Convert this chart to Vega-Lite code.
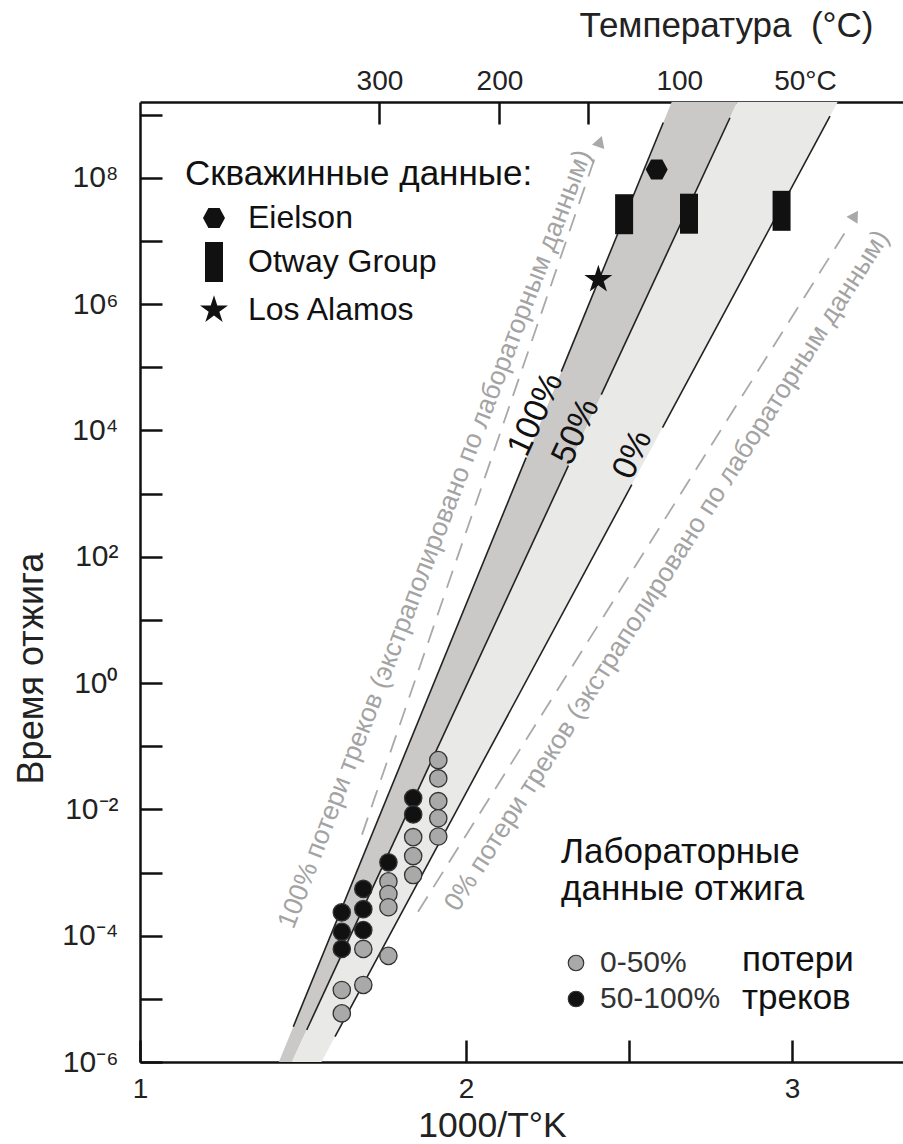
{
  "$schema": "https://vega.github.io/schema/vega-lite/v6.json",
  "width": 763,
  "height": 960,
  "autosize": {"type": "none"},
  "padding": {"left": 140, "top": 102, "right": 0, "bottom": 82},
  "background": "#ffffff",
  "config": {
    "font": "Liberation Sans",
    "view": {"stroke": null},
    "axis": {"grid": false}
  },
  "resolve": {"axis": {"x": "independent"}},
  "datasets": {
    "bandDark": [
      {"t": 1e-6, "x": 1.4259, "x2": 1.4658},
      {"t": 1584893192, "x": 2.6309, "x2": 2.8322}
    ],
    "bandLight": [
      {"t": 1e-6, "x": 1.4658, "x2": 1.5564},
      {"t": 1584893192, "x": 2.8322, "x2": 3.1399}
    ],
    "lines": [
      {"seg": "100a", "x": 1.4702, "t": 3.622e-6}, {"seg": "100a", "x": 2.1844, "t": 3707},
      {"seg": "100b", "x": 2.2923, "t": 85310}, {"seg": "100b", "x": 2.6052, "t": 751600000},
      {"seg": "50a", "x": 1.5113, "t": 3.214e-6}, {"seg": "50a", "x": 2.3141, "t": 2767},
      {"seg": "50b", "x": 2.415, "t": 36900}, {"seg": "50b", "x": 2.8098, "t": 893000000},
      {"seg": "0a", "x": 1.5982, "t": 2.518e-6}, {"seg": "0a", "x": 2.5086, "t": 1384},
      {"seg": "0b", "x": 2.6028, "t": 11070}, {"seg": "0b", "x": 3.1166, "t": 946000000}
    ],
    "dashed": [
      {"id": "L", "x": 1.681, "t": 0.00398}, {"id": "L", "x": 2.4018, "t": 261000000},
      {"id": "R", "x": 1.8528, "t": 0.00024}, {"id": "R", "x": 3.178, "t": 18200000}
    ],
    "arrows": [
      {"id": "L", "x": 2.411, "t": 376000000},
      {"id": "R", "x": 3.1933, "t": 25300000}
    ],
    "notes": [
      {"id": "L", "txt": "100% потери треков (экстраполировано по лабораторным данным)", "x": 1.905, "t": 190},
      {"id": "R", "txt": "0% потери треков (экстраполировано по лабораторным данным)", "x": 2.6166, "t": 60.1}
    ],
    "pct": [
      {"label": "100%", "x": 2.214, "t": 17783},
      {"label": "50%", "x": 2.338, "t": 9572},
      {"label": "0%", "x": 2.512, "t": 4130}
    ],
    "lab": [
      {"x": 1.915, "t": 0.0603, "loss": "0-50%"},
      {"x": 1.915, "t": 0.0309, "loss": "0-50%"},
      {"x": 1.915, "t": 0.0135, "loss": "0-50%"},
      {"x": 1.915, "t": 0.00724, "loss": "0-50%"},
      {"x": 1.915, "t": 0.00372, "loss": "0-50%"},
      {"x": 1.838, "t": 0.0151, "loss": "50-100%"},
      {"x": 1.838, "t": 0.00832, "loss": "50-100%"},
      {"x": 1.838, "t": 0.00363, "loss": "0-50%"},
      {"x": 1.838, "t": 0.00182, "loss": "0-50%"},
      {"x": 1.838, "t": 0.000912, "loss": "0-50%"},
      {"x": 1.762, "t": 0.00145, "loss": "50-100%"},
      {"x": 1.762, "t": 0.000724, "loss": "0-50%"},
      {"x": 1.762, "t": 0.000457, "loss": "0-50%"},
      {"x": 1.762, "t": 0.000282, "loss": "0-50%"},
      {"x": 1.762, "t": 0.0000479, "loss": "0-50%"},
      {"x": 1.685, "t": 0.00055, "loss": "50-100%"},
      {"x": 1.685, "t": 0.000263, "loss": "50-100%"},
      {"x": 1.685, "t": 0.000123, "loss": "50-100%"},
      {"x": 1.685, "t": 0.0000617, "loss": "0-50%"},
      {"x": 1.685, "t": 0.0000166, "loss": "0-50%"},
      {"x": 1.619, "t": 0.000234, "loss": "50-100%"},
      {"x": 1.619, "t": 0.000115, "loss": "50-100%"},
      {"x": 1.619, "t": 0.0000617, "loss": "50-100%"},
      {"x": 1.619, "t": 0.0000138, "loss": "0-50%"},
      {"x": 1.619, "t": 0.00000589, "loss": "0-50%"}
    ],
    "bore": [
      {"site": "Eielson", "x": 2.585, "t": 135000000},
      {"site": "Otway Group", "x": 2.485, "t": 26500000},
      {"site": "Otway Group", "x": 2.684, "t": 27000000},
      {"site": "Otway Group", "x": 2.968, "t": 30000000},
      {"site": "Los Alamos", "x": 2.406, "t": 2450000}
    ],
    "words": [
      {"w": "потери", "x": 2.8466, "t": 0.0000413},
      {"w": "треков", "x": 2.8466, "t": 0.0000103}
    ]
  },
  "layer": [
    {
      "data": {"name": "bandDark"},
      "mark": {"type": "area", "orient": "horizontal", "color": "#cbc9c7", "clip": true},
      "encoding": {
        "y": {
          "field": "t", "type": "quantitative",
          "scale": {"type": "log", "domain": [1e-6, 1584893192], "nice": false},
          "axis": {
            "orient": "left",
            "values": [1e-6, 1e-5, 1e-4, 1e-3, 0.01, 0.1, 1, 10, 100, 1000, 10000, 100000, 1000000, 10000000, 100000000, 1000000000],
            "labelExpr": "round(log(datum.value)/LN10) == 8 ? '10⁸' : round(log(datum.value)/LN10) == 6 ? '10⁶' : round(log(datum.value)/LN10) == 4 ? '10⁴' : round(log(datum.value)/LN10) == 2 ? '10²' : round(log(datum.value)/LN10) == 0 ? '10⁰' : round(log(datum.value)/LN10) == -2 ? '10⁻²' : round(log(datum.value)/LN10) == -4 ? '10⁻⁴' : round(log(datum.value)/LN10) == -6 ? '10⁻⁶' : ''",
            "labelOverlap": false,
            "labelFontSize": 30,
            "labelColor": "#222",
            "labelPadding": 44,
            "tickSize": -22,
            "tickWidth": 2.5,
            "tickColor": "#111",
            "domainColor": "#111",
            "domainWidth": 2.5,
            "title": "Время отжига",
            "titleFontSize": 36,
            "titleFontWeight": "normal",
            "titleColor": "#222",
            "titleAngle": -90,
            "titleAlign": "center",
            "titleBaseline": "alphabetic",
            "titleX": -98,
            "titleY": 566
          }
        },
        "x": {
          "field": "x", "type": "quantitative",
          "scale": {"domain": [1, 3.3405], "zero": false, "nice": false},
          "axis": {
            "orient": "bottom",
            "values": [1, 1.5, 2, 2.5, 3],
            "labelExpr": "datum.value == 1 ? '1' : datum.value == 2 ? '2' : datum.value == 3 ? '3' : ''",
            "labelFlush": false,
            "labelOverlap": false,
            "labelFontSize": 28,
            "labelColor": "#222",
            "labelPadding": 35,
            "tickSize": -22,
            "tickWidth": 2.5,
            "tickColor": "#111",
            "domainColor": "#111",
            "domainWidth": 2.5,
            "title": "1000/T°K",
            "titleFontSize": 35.5,
            "titleFontWeight": "normal",
            "titleColor": "#222",
            "titleAlign": "center",
            "titleBaseline": "alphabetic",
            "titleX": 352,
            "titleY": 74
          }
        },
        "x2": {"field": "x2"}
      }
    },
    {
      "data": {"name": "bandLight"},
      "mark": {"type": "area", "orient": "horizontal", "color": "#e9e9e8", "clip": true},
      "encoding": {
        "y": {"field": "t", "type": "quantitative"},
        "x": {
          "field": "x", "type": "quantitative",
          "axis": {
            "orient": "top",
            "values": [1.7344, 2.1025, 2.3748, 2.6543, 3.0399],
            "labelExpr": "datum.value < 1.9 ? '300' : datum.value < 2.2 ? '200' : datum.value < 2.5 ? '' : datum.value < 2.8 ? '100' : '50°C'",
            "labelFlush": false,
            "labelOverlap": false,
            "labelFontSize": 28,
            "labelColor": "#222",
            "labelPadding": 29,
            "tickSize": -22,
            "tickWidth": 2.5,
            "tickColor": "#111",
            "domainColor": "#111",
            "domainWidth": 2.5,
            "title": "Температура\u00a0\u00a0(°C)",
            "titleFontSize": 35,
            "titleFontWeight": "normal",
            "titleColor": "#222",
            "titleAlign": "right",
            "titleBaseline": "alphabetic",
            "titleX": 733,
            "titleY": -66
          }
        },
        "x2": {"field": "x2"}
      }
    },
    {
      "data": {"name": "lines"},
      "mark": {"type": "line", "color": "#222", "strokeWidth": 1.6},
      "encoding": {
        "x": {"field": "x", "type": "quantitative", "axis": null},
        "y": {"field": "t", "type": "quantitative"},
        "detail": {"field": "seg", "type": "nominal"}
      }
    },
    {
      "data": {"name": "dashed"},
      "mark": {"type": "line", "color": "#a9a9a9", "strokeWidth": 1.8, "strokeDash": [18, 11]},
      "encoding": {
        "x": {"field": "x", "type": "quantitative", "axis": null},
        "y": {"field": "t", "type": "quantitative"},
        "detail": {"field": "id", "type": "nominal"}
      }
    },
    {
      "data": {"name": "arrows"},
      "transform": [{"filter": "datum.id == 'L'"}],
      "mark": {"type": "point", "shape": "triangle-up", "filled": true, "color": "#a9a9a9", "opacity": 1, "size": 170, "angle": 19},
      "encoding": {
        "x": {"field": "x", "type": "quantitative", "axis": null},
        "y": {"field": "t", "type": "quantitative"}
      }
    },
    {
      "data": {"name": "arrows"},
      "transform": [{"filter": "datum.id == 'R'"}],
      "mark": {"type": "point", "shape": "triangle-up", "filled": true, "color": "#a9a9a9", "opacity": 1, "size": 170, "angle": 32},
      "encoding": {
        "x": {"field": "x", "type": "quantitative", "axis": null},
        "y": {"field": "t", "type": "quantitative"}
      }
    },
    {
      "data": {"name": "notes"},
      "transform": [{"filter": "datum.id == 'L'"}],
      "mark": {"type": "text", "angle": -69, "fontSize": 26.5, "color": "#a3a3a3", "align": "center", "baseline": "middle"},
      "encoding": {
        "x": {"field": "x", "type": "quantitative", "axis": null},
        "y": {"field": "t", "type": "quantitative"},
        "text": {"field": "txt", "type": "nominal"}
      }
    },
    {
      "data": {"name": "notes"},
      "transform": [{"filter": "datum.id == 'R'"}],
      "mark": {"type": "text", "angle": -57.4, "fontSize": 26.5, "color": "#a3a3a3", "align": "center", "baseline": "middle"},
      "encoding": {
        "x": {"field": "x", "type": "quantitative", "axis": null},
        "y": {"field": "t", "type": "quantitative"},
        "text": {"field": "txt", "type": "nominal"}
      }
    },
    {
      "data": {"name": "pct"},
      "mark": {"type": "text", "angle": -65, "fontSize": 34, "color": "#111", "align": "center", "baseline": "middle"},
      "encoding": {
        "x": {"field": "x", "type": "quantitative", "axis": null},
        "y": {"field": "t", "type": "quantitative"},
        "text": {"field": "label", "type": "nominal"}
      }
    },
    {
      "data": {"name": "lab"},
      "mark": {"type": "circle", "size": 300, "stroke": "#333", "strokeWidth": 1.3, "opacity": 1},
      "encoding": {
        "x": {"field": "x", "type": "quantitative", "axis": null},
        "y": {"field": "t", "type": "quantitative"},
        "color": {
          "field": "loss", "type": "nominal",
          "scale": {"domain": ["0-50%", "50-100%"], "range": ["#a9a9a9", "#111111"]},
          "legend": {
            "orient": "none",
            "legendX": 421,
            "legendY": 733,
            "padding": 0,
            "title": ["Лабораторные", "данные отжига"],
            "titleFontSize": 35,
            "titleFontWeight": "normal",
            "titleColor": "#111",
            "titleLineHeight": 37,
            "titlePadding": 41,
            "titleLimit": 600,
            "labelLimit": 600,
            "labelFontSize": 30,
            "labelColor": "#333",
            "labelOffset": 9,
            "symbolType": "circle",
            "symbolSize": 240,
            "symbolStrokeColor": "#333",
            "symbolStrokeWidth": 1.2,
            "rowPadding": 6
          }
        }
      }
    },
    {
      "data": {"name": "bore"},
      "mark": {"type": "point", "filled": true, "color": "#111", "opacity": 1, "size": 1600},
      "encoding": {
        "x": {"field": "x", "type": "quantitative", "axis": null},
        "y": {"field": "t", "type": "quantitative"},
        "shape": {
          "field": "site", "type": "nominal",
          "scale": {
            "domain": ["Eielson", "Otway Group", "Los Alamos"],
            "range": [
              "M-0.55,0L-0.28,-0.5L0.28,-0.5L0.55,0L0.28,0.5L-0.28,0.5Z",
              "M-0.45,-1L0.45,-1L0.45,1L-0.45,1Z",
              "M0,-0.736L0.165,-0.227L0.7,-0.227L0.267,0.087L0.433,0.595L0,0.281L-0.433,0.595L-0.267,0.087L-0.7,-0.227L-0.165,-0.227Z"
            ]
          },
          "legend": {
            "orient": "none",
            "legendX": 45,
            "legendY": 55,
            "padding": 0,
            "title": "Скважинные данные:",
            "titleFontSize": 35,
            "titleFontWeight": "normal",
            "titleColor": "#111",
            "titlePadding": 6,
            "titleLimit": 600,
            "labelLimit": 600,
            "labelFontSize": 32,
            "labelColor": "#111",
            "labelOffset": 14,
            "symbolOffset": 9,
            "symbolSize": 1600,
            "symbolFillColor": "#111",
            "symbolStrokeWidth": 0,
            "rowPadding": 8
          }
        }
      }
    },
    {
      "data": {"name": "words"},
      "mark": {"type": "text", "fontSize": 35, "color": "#111", "align": "left", "baseline": "middle"},
      "encoding": {
        "x": {"field": "x", "type": "quantitative", "axis": null},
        "y": {"field": "t", "type": "quantitative"},
        "text": {"field": "w", "type": "nominal"}
      }
    }
  ]
}
